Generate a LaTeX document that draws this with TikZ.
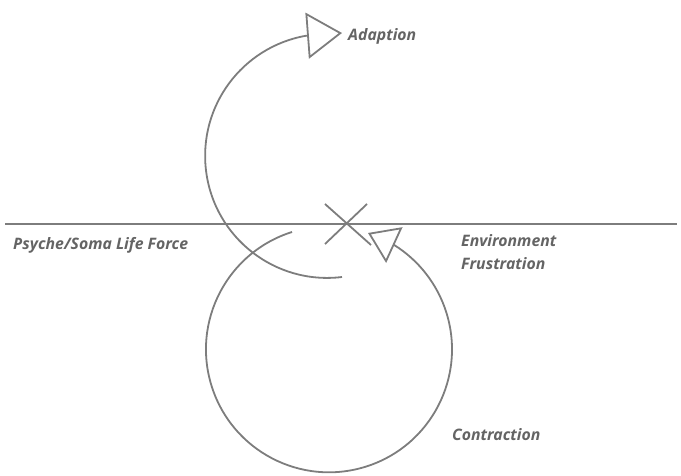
\documentclass[tikz,border=0pt]{standalone}
\usepackage{fontspec}
\setmainfont{Open Sans}
\usetikzlibrary{arrows.meta}
\definecolor{linegray}{RGB}{125,125,125}
\definecolor{textgray}{RGB}{100,100,100}
\tikzset{
  curve/.style={draw=linegray,line width=1.8pt},
  label/.style={text=textgray,font=\fontsize{15.8}{20}\selectfont\bfseries\itshape,inner sep=0pt,anchor=base west}
}
\begin{document}
\begin{tikzpicture}[x=1pt,y=1pt]
	\useasboundingbox (0,0) rectangle (681,476);
	\coordinate (horizonW) at (5,252);
	\coordinate (horizonE) at (677,252);
	\coordinate (cross) at (347,252);
	\coordinate (upStart) at (342,199);
	\coordinate (tipA) at (342,443);
	\coordinate (lowStart) at (292,244);
	\coordinate (tipB) at (368,243);
	\draw [draw=linegray,line width=2.4pt] (horizonW)--(horizonE);
	\draw [curve] (cross) ++(-22,20) -- ++(46,-41);
	\draw [curve] (cross) ++(20,20) -- ++(-42,-40);
	% adaption loop
	\draw [curve,-{Triangle[open,length=35pt,width=46pt]}] (upStart) arc[start angle=-83,end angle=-260,radius=122] -- (tipA);
	% contraction loop
	\draw [curve,-{Triangle[open,length=29pt,width=39pt]}] (lowStart) arc[start angle=107.5,end angle=418,radius=123] -- (tipB);
	\node (adaption) [label] at (348,435) {Adaption};
	\node (lifeforce) [label] at (13,226) {Psyche/Soma Life Force};
	\node (environment) [label] at (461,229) {Environment};
	\node (frustration) [label] at (461,206) {Frustration};
	\node (contraction) [label] at (452,35) {Contraction};
\end{tikzpicture}
\end{document}
